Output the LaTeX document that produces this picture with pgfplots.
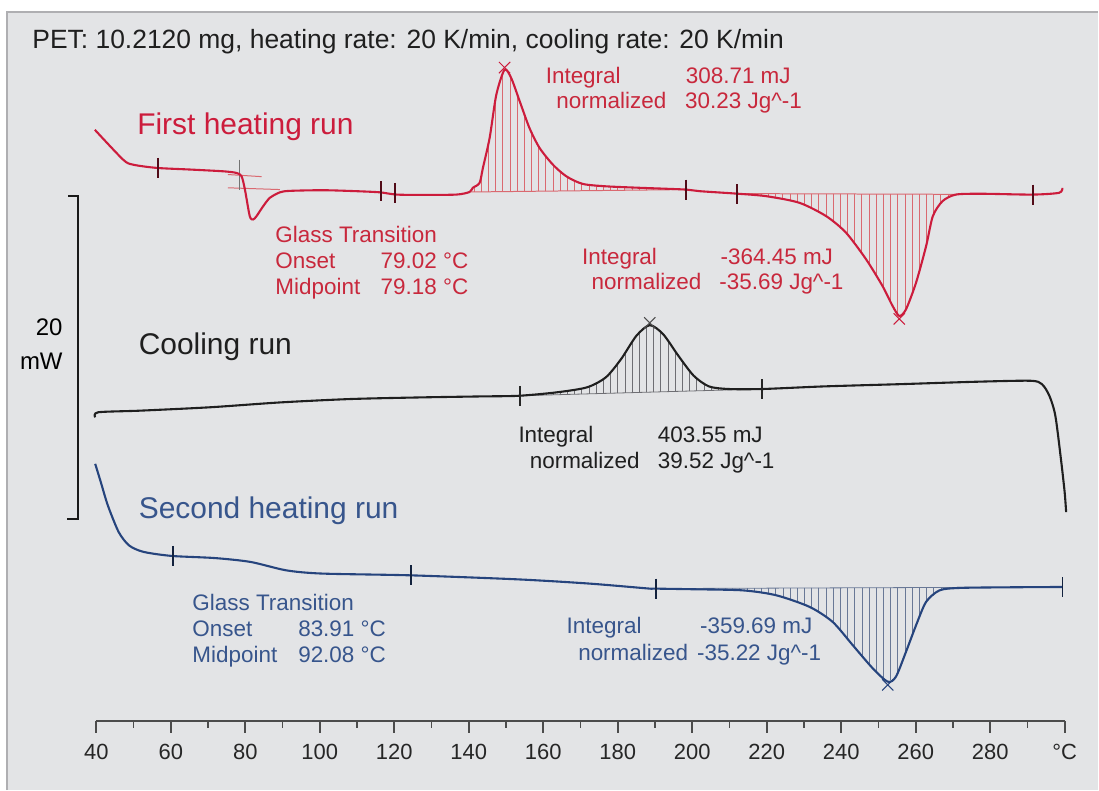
\documentclass[border=0pt]{standalone}
\usepackage{fontspec}
\setmainfont{Liberation Sans}
\usepackage{pgfplots}
\pgfplotsset{compat=1.18}
\usepackage{pgfplotstable}
\usetikzlibrary{patterns.meta}
\definecolor{bg}{RGB}{227,228,230}
\definecolor{framec}{RGB}{175,175,178}
\definecolor{runred}{RGB}{204,28,60}
\definecolor{txtred}{RGB}{200,40,60}
\definecolor{runblue}{RGB}{38,68,125}
\definecolor{txtblue}{RGB}{55,85,140}
\definecolor{hatchred}{RGB}{218,105,112}
\definecolor{hatchgray}{RGB}{110,110,115}
\definecolor{hatchblue}{RGB}{105,120,150}

% first heating run: T (degC), heat flow (mW, offset)
\pgfplotstableread{
T y
39.6 36.60
47.2 34.75
49.9 34.44
56.2 34.24
65.1 34.14
74.1 34.03
77.6 33.93
79.0 33.72
79.9 32.90
81.2 31.25
82.1 31.05
83.0 31.25
84.8 31.87
86.6 32.39
89.3 32.73
92.0 32.82
100.9 32.86
109.8 32.80
116.1 32.73
120.6 32.59
127.7 32.57
136.7 32.59
140.2 32.75
141.1 33.01
142.9 33.31
143.8 34.24
145.6 36.09
147.4 38.77
149.6 40.31
151.4 39.80
153.7 38.35
156.3 36.71
159.0 35.48
162.6 34.44
166.2 33.72
170.6 33.25
176.9 33.10
185.9 33.01
198.4 32.90
202.0 32.80
211.8 32.65
219.9 32.49
228.8 32.08
236.0 31.25
241.3 30.23
246.7 28.58
251.1 26.93
253.8 25.70
255.6 25.08
257.4 25.49
260.1 27.14
262.8 29.40
264.6 31.25
267.2 32.18
270.8 32.59
278.0 32.64
291.4 32.59
298.5 32.70
299.4 33.01
}\firstheat

\pgfplotstableread{
T y
39.7 18.81
40.5 19.12
51.8 19.22
70.6 19.43
89.4 19.73
108.3 19.94
127.1 20.04
142.9 20.10
153.4 20.14
163.5 20.35
171.7 20.66
176.8 21.28
180.9 22.41
185.0 23.85
188.6 24.51
192.2 23.95
196.3 22.61
200.4 21.38
204.5 20.72
209.7 20.56
218.9 20.56
235.3 20.72
255.9 20.86
276.4 21.01
290.8 21.07
293.9 20.86
295.9 20.14
297.5 18.91
299.0 16.23
300.0 14.18
300.4 12.94
}\cooling

\pgfplotstableread{
T y
39.7 15.93
41.2 14.80
43.1 13.35
46.0 11.71
48.8 10.88
52.7 10.48
60.3 10.23
71.8 10.10
81.4 9.86
91.0 9.34
100.6 9.14
124.5 9.03
153.3 8.78
172.4 8.52
188.5 8.21
189.4 8.21
200.2 8.17
213.6 8.10
222.5 7.80
231.5 7.08
237.7 6.15
243.1 4.71
248.5 3.27
252.5 2.45
254.7 2.76
257.4 4.30
260.1 5.94
262.8 7.39
266.4 8.10
271.7 8.25
285.1 8.29
299.4 8.31
}\secondheat

\begin{document}
\begin{tikzpicture}
\begin{axis}[
  scale only axis, width=485.3pt, height=355.5pt,
  xmin=40, xmax=300, ymin=0, ymax=43.89,
  clip=false, axis on top,
  axis x line*=bottom, axis y line=none,
  x axis line style={-, line width=1pt, black!70},
  xtick={40,60,...,300},
  xticklabels={40,60,80,100,120,140,160,180,200,220,240,260,280,°C},
  minor x tick num=1,
  tick align=outside, xtick align=outside,
  major tick length=5.8pt, minor tick length=3.3pt,
  every tick/.style={black!70, line width=0.9pt},
  xticklabel style={font=\fontsize{11}{13}\selectfont, text=black!85, yshift=-2pt},
]
% background
\fill[white] (axis cs:14.134,-4.259) rectangle (axis cs:309.01,44.63);
\fill[bg] (axis cs:16.01,-4.259) rectangle (axis cs:309.01,43.89);
\draw[framec, line width=0.8pt] (axis cs:16.01,-4.259) -- (axis cs:16.01,43.89) -- (axis cs:309.01,43.89);

% hatched integration areas
\addplot[draw=none, pattern={Lines[angle=90,distance=3.6pt,line width=0.5pt]}, pattern color=hatchred]
 coordinates {(140.2,32.75)(141.1,33.01)(142.9,33.31)(143.8,34.24)(145.6,36.09)(147.4,38.77)(149.6,40.31)(151.4,39.80)(153.7,38.35)(156.3,36.71)(159.0,35.48)(162.6,34.44)(166.2,33.72)(170.6,33.25)(176.9,33.10)(185.9,33.01)(198.4,32.90)} -- cycle;
\addplot[draw=none, pattern={Lines[angle=90,distance=3.6pt,line width=0.5pt]}, pattern color=hatchred]
 coordinates {(211.8,32.65)(219.9,32.49)(228.8,32.08)(236.0,31.25)(241.3,30.23)(246.7,28.58)(251.1,26.93)(253.8,25.70)(255.6,25.08)(257.4,25.49)(260.1,27.14)(262.8,29.40)(264.6,31.25)(267.2,32.18)(270.8,32.59)(278.0,32.64)(291.4,32.59)} -- cycle;
\addplot[draw=none, pattern={Lines[angle=90,distance=3.6pt,line width=0.4pt]}, pattern color=hatchgray]
 coordinates {(153.4,20.14)(163.5,20.35)(171.7,20.66)(176.8,21.28)(180.9,22.41)(185.0,23.85)(188.6,24.51)(192.2,23.95)(196.3,22.61)(200.4,21.38)(204.5,20.72)(209.7,20.56)(218.9,20.56)} -- cycle;
\addplot[draw=none, pattern={Lines[angle=90,distance=3.6pt,line width=0.4pt]}, pattern color=hatchblue]
 coordinates {(189.4,8.21)(200.2,8.17)(213.6,8.10)(222.5,7.80)(231.5,7.08)(237.7,6.15)(243.1,4.71)(248.5,3.27)(252.5,2.45)(254.7,2.76)(257.4,4.30)(260.1,5.94)(262.8,7.39)(266.4,8.10)(271.7,8.25)(285.1,8.29)(299.4,8.31)} -- cycle;

% baselines of integration
\addplot[hatchred, line width=0.5pt] coordinates {(140.2,32.75)(198.4,32.90)};
\addplot[hatchred, line width=0.5pt] coordinates {(211.8,32.65)(291.4,32.59)};
\addplot[hatchgray, line width=0.4pt] coordinates {(153.4,20.14)(218.9,20.56)};
\addplot[hatchblue, line width=0.4pt] coordinates {(189.4,8.21)(299.4,8.31)};

% glass transition construction lines (first heating)
\addplot[hatchred, line width=0.5pt] coordinates {(75.3,33.01)(89.3,32.90)};
\addplot[hatchred, line width=0.5pt] coordinates {(75.3,33.83)(84.4,33.70)};
\addplot[black!55, line width=0.5pt] coordinates {(78.5,34.75)(78.5,32.90)};

% curves
\addplot[runred, line width=1.05pt, smooth, tension=0.45] table[x=T,y=y] {\firstheat};
\addplot[black!88, line width=1.05pt, smooth, tension=0.45] table[x=T,y=y] {\cooling};
\addplot[runblue, line width=1.05pt, smooth, tension=0.45] table[x=T,y=y] {\secondheat};

% integration limit markers
\addplot[only marks, mark=|, mark size=5pt, mark options={line width=0.9pt, draw=black!60!runred}]
 coordinates {(56.5,34.24)(116.4,32.80)(120.1,32.70)(198.4,32.90)(212.1,32.62)(291.6,32.59)};
\addplot[only marks, mark=|, mark size=5pt, mark options={line width=0.9pt, draw=black!85}]
 coordinates {(153.7,20.14)(218.7,20.56)};
\addplot[only marks, mark=|, mark size=5pt, mark options={line width=0.9pt, draw=black!50!runblue}]
 coordinates {(60.6,10.23)(124.5,9.03)(190.3,8.21)(299.4,8.31)};
% peak markers
\addplot[only marks, mark=x, mark size=4pt, mark options={line width=0.5pt, draw=runred}]
 coordinates {(149.6,40.45)(255.6,24.90)};
\addplot[only marks, mark=x, mark size=4pt, mark options={line width=0.5pt, draw=black!70}]
 coordinates {(188.6,24.65)};
\addplot[only marks, mark=x, mark size=4pt, mark options={line width=0.5pt, draw=runblue}]
 coordinates {(252.5,2.25)};

% 20 mW scale bar
\addplot[black!90, line width=1pt] coordinates {(32.49,32.49)(35.04,32.49)(35.04,12.49)(32.0,12.49)};
\node[anchor=base east, inner sep=0, font=\fontsize{12}{14}\selectfont] at (axis cs:31.04,23.85) {20};
\node[anchor=base east, inner sep=0, font=\fontsize{12}{14}\selectfont] at (axis cs:31.04,21.79) {mW};

% texts
\node[anchor=base west, inner sep=0, font=\fontsize{13.25}{15}\selectfont, text=black!88] at (axis cs:22.72,41.65) {PET: 10.2120 mg, heating rate: 20 K/min, cooling rate: 20 K/min};
\node[anchor=base west, inner sep=0, font=\fontsize{15}{17}\selectfont, text=runred] at (axis cs:50.89,36.30) {First heating run};
\node[anchor=base west, inner sep=0, font=\fontsize{15}{17}\selectfont, text=black!88] at (axis cs:51.30,22.72) {Cooling run};
\node[anchor=base west, inner sep=0, font=\fontsize{15}{17}\selectfont, text=txtblue] at (axis cs:51.30,12.53) {Second heating run};

\begin{scope}[every node/.style={anchor=base west, inner sep=0, font=\fontsize{11.25}{13}\selectfont}]
% first heating Tg
\node[text=txtred] at (axis cs:88.00,29.65) {Glass Transition};
\node[text=txtred] at (axis cs:88.00,28.01) {Onset};
\node[text=txtred] at (axis cs:88.00,26.42) {Midpoint};
\node[text=txtred] at (axis cs:116.25,28.01) {79.02 °C};
\node[text=txtred] at (axis cs:116.25,26.42) {79.18 °C};
% crystallization
\node[text=txtred] at (axis cs:160.58,39.49) {Integral};
\node[text=txtred] at (axis cs:163.45,37.94) {normalized};
\node[text=txtred] at (axis cs:198.19,39.49) {308.71 mJ};
\node[text=txtred] at (axis cs:198.0,37.94) {30.23 Jg\^{}-1};
% melting first heating
\node[text=txtred] at (axis cs:170.32,28.27) {Integral};
\node[text=txtred] at (axis cs:172.89,26.73) {normalized};
\node[text=txtred] at (axis cs:207.53,28.27) {-364.45 mJ};
\node[text=txtred] at (axis cs:207.2,26.73) {-35.69 Jg\^{}-1};
% cooling
\node[text=black!88] at (axis cs:153.25,17.27) {Integral};
\node[text=black!88] at (axis cs:156.29,15.62) {normalized};
\node[text=black!88] at (axis cs:190.68,17.27) {403.55 mJ};
\node[text=black!88] at (axis cs:190.68,15.62) {39.52 Jg\^{}-1};
% second heating Tg
\node[text=txtblue] at (axis cs:65.70,6.87) {Glass Transition};
\node[text=txtblue] at (axis cs:65.70,5.23) {Onset};
\node[text=txtblue] at (axis cs:65.70,3.64) {Midpoint};
\node[text=txtblue] at (axis cs:94.12,5.23) {83.91 °C};
\node[text=txtblue] at (axis cs:94.12,3.64) {92.08 °C};
% melting second heating
\node[text=txtblue] at (axis cs:166.19,5.43) {Integral};
\node[text=txtblue] at (axis cs:169.30,3.78) {normalized};
\node[text=txtblue] at (axis cs:202.0,5.43) {-359.69 mJ};
\node[text=txtblue] at (axis cs:201.2,3.78) {-35.22 Jg\^{}-1};
\end{scope}
\end{axis}
\end{tikzpicture}
\end{document}
